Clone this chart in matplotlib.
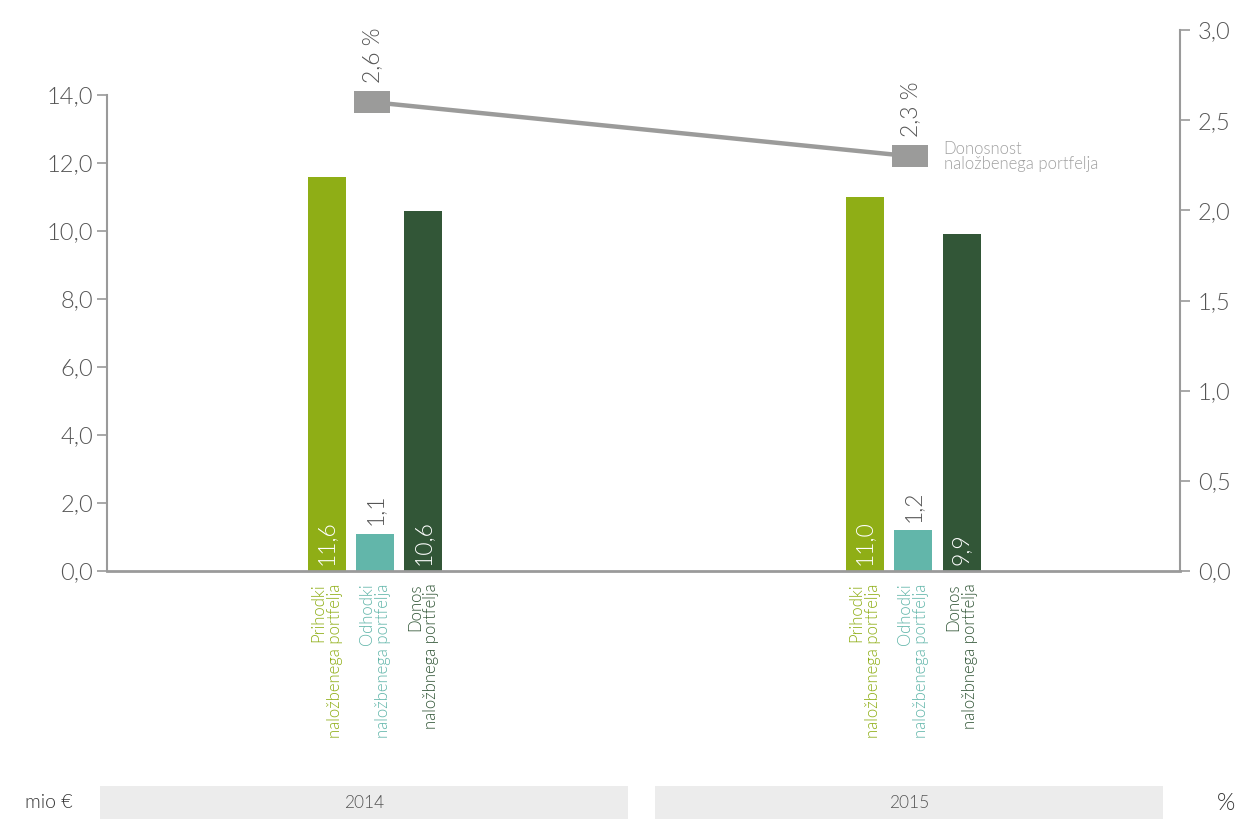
import matplotlib
matplotlib.use("Agg")
import matplotlib.pyplot as plt
from matplotlib.patches import Rectangle
from matplotlib.path import Path

plt.rcParams['font.family'] = ['Lato', 'DejaVu Sans']
plt.rcParams['font.weight'] = 300

years = ["2014", "2015"]
series_names = [
    "Prihodki\nnaložbenega portfelja",
    "Odhodki\nnaložbenega portfelja",
    "Donos\nnaložbnega portfelja",
]
series_values = [
    [11.6, 11.0],   # prihodki
    [1.1, 1.2],     # odhodki
    [10.6, 9.9],    # donos
]
return_pct = [2.6, 2.3]
return_label = "Donosnost\nnaložbenega portfelja"
left_ticks = [0, 2, 4, 6, 8, 10, 12, 14]
right_ticks = [0, 0.5, 1.0, 1.5, 2.0, 2.5, 3.0]

colors = ["#8fae16", "#62b6aa", "#325637"]
axis_grey = "#9a9a9a"
text_grey = "#555555"

W, H = 1240, 819
fig = plt.figure(figsize=(W / 100, H / 100), dpi=100)
ax = fig.add_axes([107 / W, 248 / H, (1180 - 107) / W, (571 - 30) / H])
ax2 = ax.twinx()

def fmt(v, d=1):
    return f"{v:.{d}f}".replace(".", ",")

offsets = [-0.09, 0.0, 0.09]
width = 0.0706
for i, (name, vals, c) in enumerate(zip(series_names, series_values, colors)):
    xs = [g + offsets[i] for g in range(len(years))]
    ax.bar(xs, vals, width=width, color=c, zorder=2)
    for x, v in zip(xs, vals):
        if i == 1:
            ax.annotate(fmt(v), (x, v), xytext=(0, 6), textcoords="offset points",
                        rotation=90, ha="center", va="bottom", fontsize=16.5,
                        color=text_grey)
        else:
            ax.annotate(fmt(v), (x, 0), xytext=(0, 4), textcoords="offset points",
                        rotation=90, ha="center", va="bottom", fontsize=16.5,
                        color="white")
        ax.annotate(name, (x, 0), xytext=(0, -9), textcoords="offset points",
                    rotation=90, ha="center", va="top", multialignment="right",
                    fontsize=12, color=c, linespacing=1.0, annotation_clip=False)

ax.set_xlim(-0.498, 1.496)
ax.set_ylim(0, 15.91)
ax2.set_ylim(0, 3.0)

# return line with rectangular markers
rect = Path([(-1, -0.6), (1, -0.6), (1, 0.6), (-1, 0.6), (-1, -0.6)],
            [Path.MOVETO, Path.LINETO, Path.LINETO, Path.LINETO, Path.CLOSEPOLY])
xr = [g - 0.005 for g in range(len(years))]
ax2.plot(xr, return_pct, color="#9b9b9a", lw=3.2, marker=rect, markersize=26,
         markerfacecolor="#9b9b9a", markeredgewidth=0, zorder=3)
for x, v in zip(xr, return_pct):
    ax2.annotate(fmt(v) + " %", (x, v), xytext=(0, 14), textcoords="offset points",
                 rotation=90, ha="center", va="bottom", fontsize=16.5, color=text_grey)
ax2.annotate(return_label, (xr[-1], return_pct[-1]), xytext=(24, 0),
             textcoords="offset points", ha="left", va="center", fontsize=12,
             color="#a0a0a0", linespacing=0.95)

# axes styling
for a in (ax, ax2):
    a.spines["top"].set_visible(False)
ax.spines["right"].set_visible(False)
ax2.spines["left"].set_visible(False)
ax2.spines["bottom"].set_visible(False)
ax.spines["left"].set_bounds(0, 14)
ax.spines["left"].set_color(axis_grey)
ax.spines["left"].set_linewidth(1.5)
ax.spines["bottom"].set_color(axis_grey)
ax.spines["bottom"].set_linewidth(2)
ax2.spines["right"].set_color(axis_grey)
ax2.spines["right"].set_linewidth(1.5)

ax.set_yticks(left_ticks)
ax.set_yticklabels([fmt(t) for t in left_ticks])
ax2.set_yticks(right_ticks)
ax2.set_yticklabels([fmt(t) for t in right_ticks])
ax.set_xticks([])
ax.tick_params(axis="y", length=7, width=1.2, color=axis_grey, labelsize=17,
               labelcolor=text_grey, pad=3)
ax2.tick_params(axis="y", length=7, width=1.2, color=axis_grey, labelsize=17,
                labelcolor=text_grey, pad=6)

# year boxes along the bottom
for x0, x1, label in [(100, 628, years[0]), (655, 1163, years[1])]:
    fig.add_artist(Rectangle((x0 / W, 0), (x1 - x0) / W, 33 / H,
                             transform=fig.transFigure, color="#ececec", lw=0))
    fig.text((x0 + x1) / 2 / W, 16 / H, label, ha="center", va="center",
             fontsize=12.5, color=text_grey)
fig.text(25 / W, 16 / H, "mio €", ha="left", va="center", fontsize=14, color="#333333")
fig.text(1226 / W, 16 / H, "%", ha="center", va="center", fontsize=17, color="#333333")

fig.savefig("out.png", dpi=100)
